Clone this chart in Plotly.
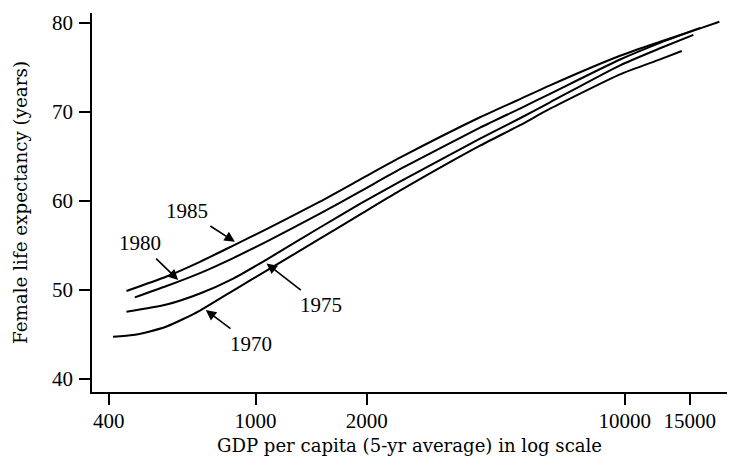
import numpy as np
import plotly.graph_objects as go

# Data (GDP per capita, female life expectancy)
gdp_1970 = [411, 466, 517, 574, 637, 707, 784, 870, 1071, 1494, 1917, 2461, 4055, 5204, 6276, 9712, 12464, 14272]
le_1970 = [44.74, 44.93, 45.33, 45.89, 46.73, 47.68, 48.80, 49.92, 52.16, 55.75, 58.44, 61.13, 66.18, 68.48, 70.33, 74.19, 75.87, 76.81]

gdp_1975 = [447, 574, 707, 870, 1071, 1494, 1917, 2461, 4055, 5204, 6276, 9712, 12464, 15345]
le_1975 = [47.54, 48.35, 49.59, 51.27, 53.40, 57.00, 59.65, 62.14, 66.96, 69.26, 71.05, 75.20, 77.11, 78.62]

gdp_1980 = [471, 574, 707, 870, 1071, 1494, 1917, 2461, 4055, 5204, 6276, 9712, 12464, 16000]
le_1980 = [49.16, 50.43, 51.88, 53.57, 55.41, 58.55, 61.02, 63.54, 68.20, 70.35, 72.00, 75.85, 77.72, 79.40]

gdp_1985 = [447, 574, 707, 870, 1071, 1494, 1917, 2461, 4055, 5204, 6276, 9712, 12464, 16000, 18046]
le_1985 = [49.87, 51.50, 53.15, 54.97, 56.82, 59.90, 62.37, 64.83, 69.37, 71.40, 72.95, 76.27, 77.84, 79.35, 80.08]

series = [("1970", gdp_1970, le_1970), ("1975", gdp_1975, le_1975),
          ("1980", gdp_1980, le_1980), ("1985", gdp_1985, le_1985)]

# Label placement: (label, gdp at arrow head, life expectancy at arrow head)
label_names = ["1985", "1980", "1975", "1970"]
label_gdp = [879, 617, 1071, 733]
label_le = [55.39, 51.1, 52.97, 47.74]
label_ax = [-48, -38, 54, 45]
label_ay = [-31, -37, 42, 34]

x_ticks = [400, 1000, 2000, 10000, 15000]
y_ticks = [40, 50, 60, 70, 80]

FONT = "Liberation Serif"
TITLE_FONT = "DejaVu Serif"

fig = go.Figure()
for name, gx, ly in series:
    fig.add_trace(go.Scatter(x=gx, y=ly, mode="lines", name=name,
                             line=dict(color="black", width=2, shape="spline", smoothing=0.6),
                             showlegend=False, hoverinfo="skip"))

for name, gx, ly, ax, ay in zip(label_names, label_gdp, label_le, label_ax, label_ay):
    fig.add_annotation(x=np.log10(gx), y=ly, text=name, showarrow=True,
                       ax=ax, ay=ay, arrowhead=2, arrowsize=1.3, arrowwidth=1.6,
                       arrowcolor="black", standoff=0, startstandoff=3,
                       font=dict(family=FONT, size=21, color="black"))

fig.update_layout(
    width=730, height=466,
    margin=dict(l=92, r=3, t=13, b=74),
    paper_bgcolor="white", plot_bgcolor="white",
    font=dict(family=FONT, size=21, color="black"),
)
fig.update_xaxes(type="log", range=[2.557, 4.277], automargin=False,
                 tickvals=x_ticks, ticktext=[str(v) for v in x_ticks],
                 showgrid=False, zeroline=False, showline=True, linecolor="black", linewidth=1.5,
                 ticks="outside", ticklen=11, tickwidth=1.5, tickcolor="black",
                 ticklabelstandoff=-2,
                 title=dict(text="GDP per capita (5-yr average) in log scale", standoff=7,
                            font=dict(family=TITLE_FONT, size=18.1)))
fig.update_yaxes(range=[38.54, 81.07], tickvals=y_ticks, automargin=False,
                 showgrid=False, zeroline=False, showline=True, linecolor="black", linewidth=1.5,
                 ticks="outside", ticklen=11, tickwidth=1.5, tickcolor="black",
                 ticklabelstandoff=2,
                 title=dict(text="Female life expectancy (years)", standoff=20,
                            font=dict(family=TITLE_FONT, size=18.3)))

fig.write_html("out.html", config={"displayModeBar": False},
               post_script="document.body.style.margin='0';document.body.style.overflow='hidden';")
